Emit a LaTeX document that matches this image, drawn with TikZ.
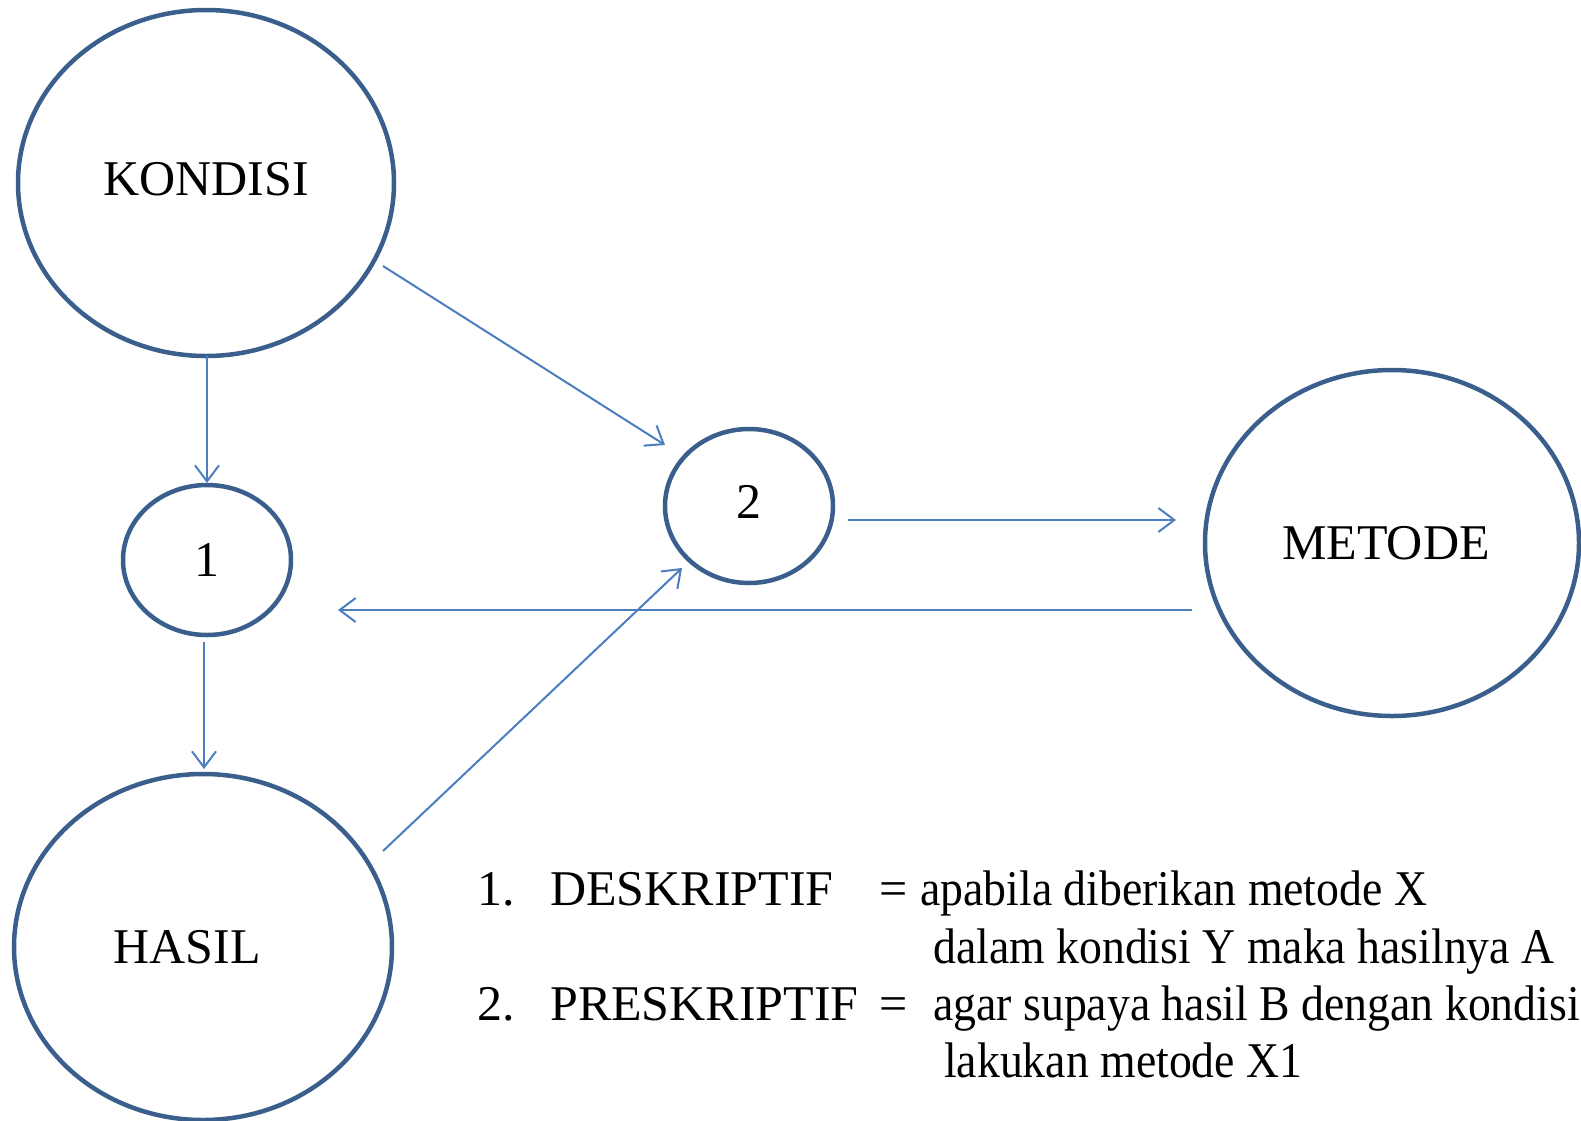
\documentclass[tikz,border=0pt]{standalone}
\usepackage{fontspec}
\setmainfont{Liberation Serif}
\newfontfamily\condfont[FakeStretch=0.915]{Liberation Serif}
\usetikzlibrary{shapes.geometric,arrows.meta}
\definecolor{ringblue}{RGB}{58,95,140}
\definecolor{arrowblue}{RGB}{74,126,190}
\begin{document}
\begin{tikzpicture}[x=1pt,y=-1pt,
  ring/.style={ellipse,draw=ringblue,line width=4.5pt,inner sep=0pt,
    font=\fontsize{50}{60}\selectfont},
  arr/.style={draw=arrowblue,line width=2pt,
    -{Straight Barb[length=16pt,width=24pt,line width=2pt]}},
  txt/.style={anchor=base west,inner sep=0pt,font=\fontsize{50}{60}\selectfont},
  ctxt/.style={txt,font=\fontsize{50}{60}\condfont}]
\useasboundingbox (0,0) rectangle (1581,1120);
\node[ring,minimum width=376pt,minimum height=346pt] (kondisi) at (206,183) {\raisebox{8pt}{KONDISI}};
\node[ring,minimum width=168pt,minimum height=150pt] (c1) at (207,560) {1};
\node[ring,minimum width=168pt,minimum height=154pt] (c2) at (749,506) {\raisebox{8pt}{2}};
\node[ring,minimum width=374pt,minimum height=346pt] (metode) at (1392,543) {\hspace*{-12pt}METODE};
\node[ring,minimum width=378pt,minimum height=346pt] (hasil) at (203,947) {\hspace*{-32pt}HASIL};
% connectors
\draw[arr] ([shift={(1,173)}]kondisi.center) -- ([shift={(0,-77)}]c1.center);
\draw[arr] ([shift={(-3,82)}]c1.center) -- ([shift={(1,-178)}]hasil.center);
\draw[arr] ([shift={(177,83)}]kondisi.center) -- ([shift={(-84,-61)}]c2.center);
\draw[arr] ([shift={(180,-96)}]hasil.center) -- ([shift={(-67,62)}]c2.center);
\draw[arr] ([shift={(99,14)}]c2.center) -- ([shift={(-216,-23)}]metode.center);
\draw[arr] ([shift={(-200,67)}]metode.center) -- ([shift={(131,50)}]c1.center);
% legend
\node[txt] (n1) at (477,905) {1.};
\node[txt] (d1) at (550,905) {DESKRIPTIF};
\node[txt] (e1) at (879,905) {=};
\node[ctxt] (l1) at (920,905) {apabila diberikan metode X};
\node[ctxt] (l2) at (933,963) {dalam kondisi Y maka hasilnya A};
\node[txt] (n2) at (477,1020) {2.};
\node[txt] (d2) at (550,1020) {PRESKRIPTIF};
\node[txt] (e2) at (879,1020) {=};
\node[ctxt] (l3) at (933,1020) {agar supaya hasil B dengan kondisi};
\node[ctxt] (l4) at (944,1077) {lakukan metode X1};
\end{tikzpicture}
\end{document}
